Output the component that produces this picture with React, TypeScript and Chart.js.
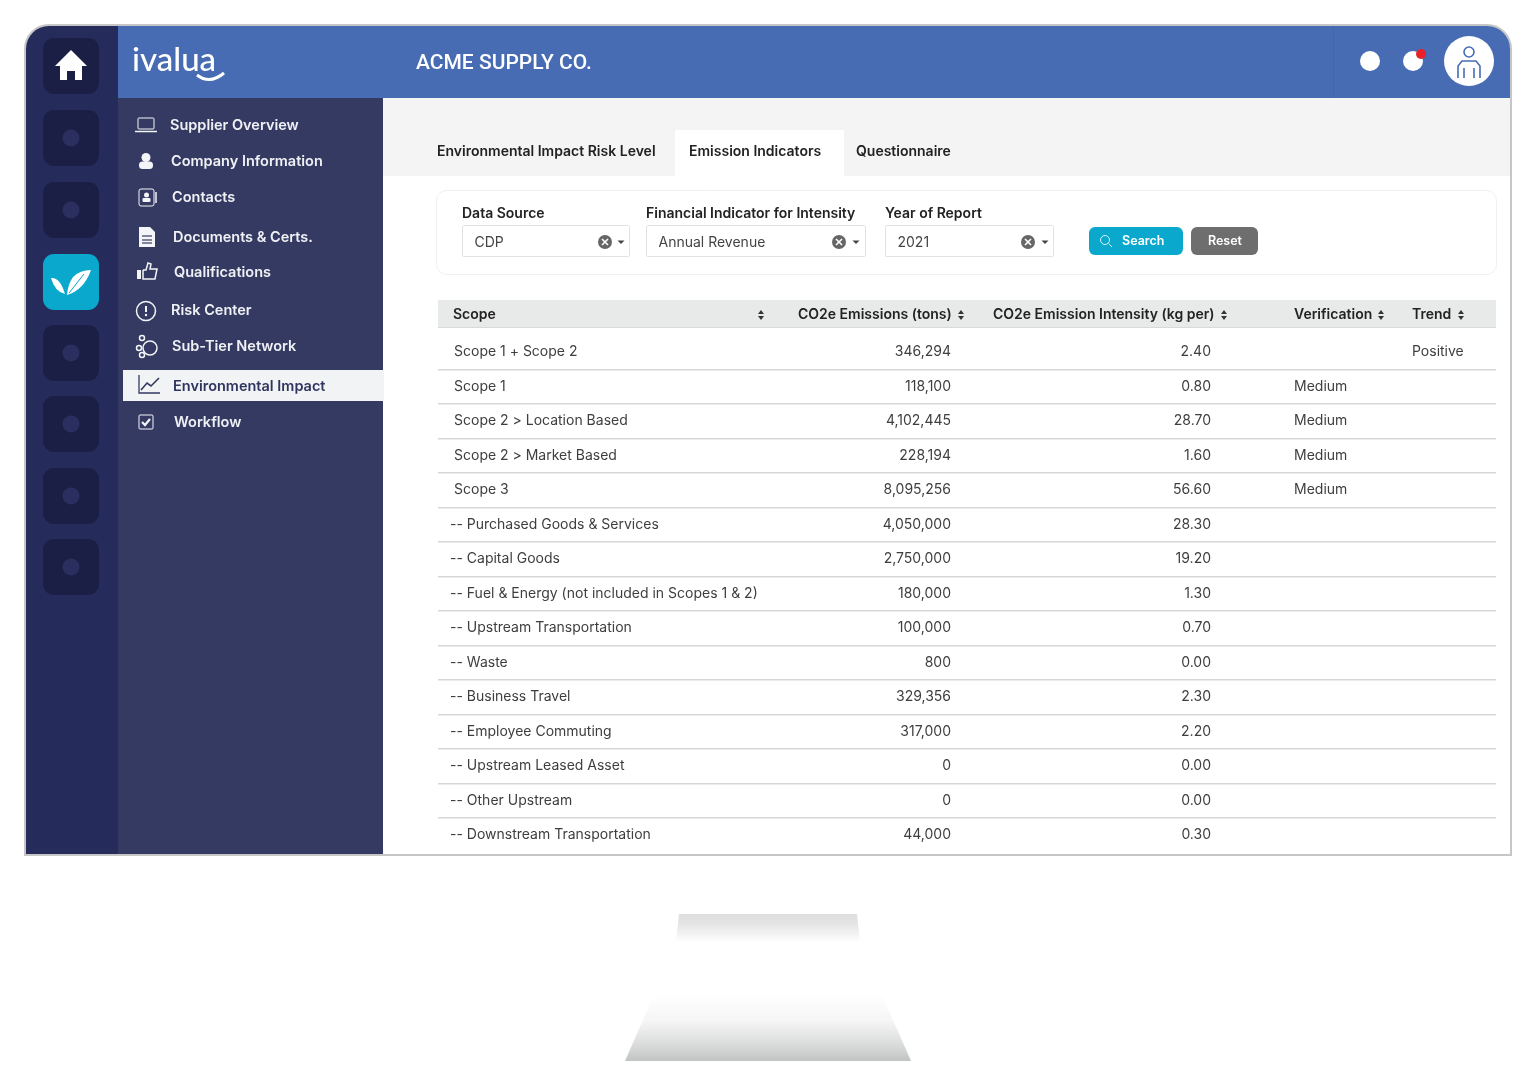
import React, { useEffect, useRef } from 'react';
import { Chart, registerables } from 'chart.js';

Chart.register(...registerables);

const rowLabels = [
  'Scope 1 + Scope 2',
  'Scope 1',
  'Scope 2 > Location Based',
  'Scope 2 > Market Based',
  'Scope 3',
  '-- Purchased Goods & Services',
  '-- Capital Goods',
  '-- Fuel & Energy (not included in Scopes 1 & 2)',
  '-- Upstream Transportation',
  '-- Waste',
  '-- Business Travel',
  '-- Employee Commuting',
  '-- Upstream Leased Asset',
  '-- Other Upstream',
  '-- Downstream Transportation',
];
const emissions = [346294, 118100, 4102445, 228194, 8095256, 4050000, 2750000, 180000, 100000, 800, 329356, 317000, 0, 0, 44000];
const intensity = [2.4, 0.8, 28.7, 1.6, 56.6, 28.3, 19.2, 1.3, 0.7, 0, 2.3, 2.2, 0, 0, 0.3];
const verification = ['', 'Medium', 'Medium', 'Medium', 'Medium', '', '', '', '', '', '', '', '', '', ''];
const trend = ['Positive', '', '', '', '', '', '', '', '', '', '', '', '', '', ''];

const navItems = ['Supplier Overview', 'Company Information', 'Contacts', 'Documents & Certs.', 'Qualifications', 'Risk Center', 'Sub-Tier Network', 'Environmental Impact', 'Workflow'];
const tabs = ['Environmental Impact Risk Level', 'Emission Indicators', 'Questionnaire'];
const filterLabels = ['Data Source', 'Financial Indicator for Intensity', 'Year of Report'];
const filterValues = ['CDP', 'Annual Revenue', '2021'];
const tableHeaders = ['Scope', 'CO2e Emissions (tons)', 'CO2e Emission Intensity (kg per)', 'Verification', 'Trend'];

const FONT = 'Inter, sans-serif';
const TABLE = { left: 438, right: 1496, rowTop: 334.75, rowBottom: 852.25 };
const navPos = [[170, 125], [171, 161], [172, 197], [173, 237], [174, 272], [171, 310], [172, 346], [173, 386], [174, 422]];
const navIconX = [146, 146, 147, 147, 147, 146, 147, 149, 146];

type Ctx = CanvasRenderingContext2D;

function rr(ctx: Ctx, x: number, y: number, w: number, h: number, r: number, fill?: string, stroke?: string) {
  ctx.beginPath();
  ctx.roundRect(x, y, w, h, r);
  if (fill) { ctx.fillStyle = fill; ctx.fill(); }
  if (stroke) { ctx.strokeStyle = stroke; ctx.lineWidth = 1; ctx.stroke(); }
}

function txt(ctx: Ctx, s: string, x: number, y: number, font: string, color: string, align: CanvasTextAlign = 'left') {
  ctx.font = font;
  ctx.fillStyle = color;
  ctx.textAlign = align;
  ctx.textBaseline = 'middle';
  ctx.fillText(s, x, y);
}

function circle(ctx: Ctx, x: number, y: number, r: number, fill: string) {
  ctx.beginPath();
  ctx.arc(x, y, r, 0, Math.PI * 2);
  ctx.fillStyle = fill;
  ctx.fill();
}

function line(ctx: Ctx, pts: number[][], color: string, w = 1.5) {
  ctx.beginPath();
  pts.forEach((p, i) => (i ? ctx.lineTo(p[0], p[1]) : ctx.moveTo(p[0], p[1])));
  ctx.strokeStyle = color;
  ctx.lineWidth = w;
  ctx.stroke();
}

function sortIcon(ctx: Ctx, x: number, y: number) {
  ctx.fillStyle = '#333';
  ctx.beginPath();
  ctx.moveTo(x - 3, y - 1); ctx.lineTo(x + 3, y - 1); ctx.lineTo(x, y - 5); ctx.closePath();
  ctx.moveTo(x - 3, y + 1); ctx.lineTo(x + 3, y + 1); ctx.lineTo(x, y + 5); ctx.closePath();
  ctx.fill();
}

function clearCaret(ctx: Ctx, x: number, cx: number, y: number) {
  circle(ctx, x, y, 7, '#666');
  line(ctx, [[x - 3, y - 3], [x + 3, y + 3]], '#fff', 1.6);
  line(ctx, [[x + 3, y - 3], [x - 3, y + 3]], '#fff', 1.6);
  ctx.fillStyle = '#444';
  ctx.beginPath();
  ctx.moveTo(cx - 3.5, y - 1.5); ctx.lineTo(cx + 3.5, y - 1.5); ctx.lineTo(cx, y + 2); ctx.closePath();
  ctx.fill();
}

function drawNavIcon(ctx: Ctx, i: number, x: number, y: number) {
  const w = '#f4f5f8';
  if (i === 0) {
    rr(ctx, x - 8, y - 7, 16, 11, 1, undefined, w);
    line(ctx, [[x - 11, y + 6.5], [x + 11, y + 6.5]], w, 1.5);
  } else if (i === 1) {
    circle(ctx, x, y - 3.5, 4.5, w);
    rr(ctx, x - 7, y + 0.5, 14, 7.5, 3.5, w);
  } else if (i === 2) {
    rr(ctx, x - 8, y - 8, 15, 17, 2, undefined, w);
    circle(ctx, x - 0.5, y - 2, 2.5, w);
    rr(ctx, x - 4.5, y + 1, 8, 4, 1, w);
    line(ctx, [[x + 9, y - 5], [x + 9, y + 6]], w, 1.5);
  } else if (i === 3) {
    ctx.fillStyle = w;
    ctx.beginPath();
    ctx.moveTo(x - 8, y - 10); ctx.lineTo(x + 3, y - 10); ctx.lineTo(x + 8, y - 5); ctx.lineTo(x + 8, y + 10); ctx.lineTo(x - 8, y + 10);
    ctx.closePath();
    ctx.fill();
    [-1, 3, 6].forEach(d => line(ctx, [[x - 5, y + d], [x + 5, y + d]], '#343a62', 1.2));
  } else if (i === 4) {
    ctx.fillStyle = w;
    ctx.fillRect(x - 10, y - 2, 4, 9);
    line(ctx, [[x - 4, y - 2], [x - 1, y - 2], [x + 1, y - 9], [x + 4, y - 8], [x + 3, y - 3], [x + 10, y - 3], [x + 8, y + 7], [x - 4, y + 7], [x - 4, y - 2]], w, 1.5);
  } else if (i === 5) {
    ctx.beginPath();
    ctx.arc(x, y + 1, 9.5, 0, Math.PI * 2);
    ctx.strokeStyle = w; ctx.lineWidth = 1.5; ctx.stroke();
    line(ctx, [[x, y - 4], [x, y + 2]], w, 2);
    circle(ctx, x, y + 5, 1.2, w);
  } else if (i === 6) {
    ctx.strokeStyle = w; ctx.lineWidth = 1.5;
    [[x + 3, y + 2, 7], [x - 5, y - 8, 2.5], [x - 8, y + 2, 2.5], [x - 5, y + 9, 2.5]].forEach(c => {
      ctx.beginPath();
      ctx.arc(c[0], c[1], c[2], 0, Math.PI * 2);
      ctx.stroke();
    });
  } else if (i === 7) {
    const d = '#343a62';
    line(ctx, [[x - 10, y - 11], [x - 10, y + 7], [x + 11, y + 7]], d, 1.3);
    line(ctx, [[x - 8, y + 4], [x - 2, y - 3], [x + 2, y], [x + 10, y - 8]], d, 1.6);
  } else {
    rr(ctx, x - 7, y - 7, 14, 14, 1, undefined, w);
    line(ctx, [[x - 4, y], [x - 1, y + 3], [x + 4, y - 3]], w, 2.2);
  }
}

// everything around the table: window frame, side bars, tabs, filters, monitor stand
const chromePlugin = {
  id: 'chrome',
  beforeDraw(chart: Chart) {
    const ctx = chart.ctx;
    ctx.save();
    ctx.fillStyle = '#fff';
    ctx.fillRect(0, 0, 1536, 1092);

    // monitor stand
    const neck = ctx.createLinearGradient(0, 914, 0, 942);
    neck.addColorStop(0, '#dedede');
    neck.addColorStop(0.35, '#e4e4e4');
    neck.addColorStop(1, '#ffffff');
    ctx.fillStyle = neck;
    ctx.beginPath();
    ctx.moveTo(679, 914); ctx.lineTo(857, 914); ctx.lineTo(860, 942); ctx.lineTo(676, 942);
    ctx.closePath();
    ctx.fill();
    const base = ctx.createLinearGradient(0, 995, 0, 1061);
    base.addColorStop(0, '#ffffff');
    base.addColorStop(0.4, '#f5f5f5');
    base.addColorStop(0.75, '#dadbdb');
    base.addColorStop(1, '#c2c4c4');
    ctx.fillStyle = base;
    ctx.beginPath();
    ctx.moveTo(654, 995); ctx.lineTo(882, 995); ctx.lineTo(911, 1061); ctx.lineTo(625, 1061);
    ctx.closePath();
    ctx.fill();

    // window
    ctx.save();
    ctx.beginPath();
    ctx.roundRect(25, 25, 1486, 830, [24, 24, 0, 0]);
    ctx.clip();
    ctx.fillStyle = '#fff';
    ctx.fillRect(25, 25, 1486, 830);
    ctx.fillStyle = '#252c5c';
    ctx.fillRect(25, 25, 93, 830);
    ctx.fillStyle = '#343a62';
    ctx.fillRect(118, 98, 265, 757);
    ctx.fillStyle = '#476cb3';
    ctx.fillRect(118, 25, 1393, 73);
    ctx.fillStyle = '#f4f4f4';
    ctx.fillRect(383, 98, 1128, 78);
    ctx.fillStyle = '#fff';
    ctx.fillRect(675, 130, 169, 46);
    ctx.fillStyle = '#43679f';
    ctx.fillRect(1333, 25, 1, 73);
    ctx.restore();
    ctx.beginPath();
    ctx.roundRect(25, 25, 1486, 830, [24, 24, 0, 0]);
    ctx.strokeStyle = '#c6c6c6';
    ctx.lineWidth = 2;
    ctx.stroke();

    // rail
    [38, 110, 182, 254, 325, 396, 468, 539].forEach((y, i) => {
      rr(ctx, 43, y, 56, 56, 11, i === 3 ? '#0aa8cc' : '#1b1f45');
      if (i !== 0 && i !== 3) circle(ctx, 71, y + 28, 8.5, '#2a2f5f');
    });
    ctx.fillStyle = '#fff';
    ctx.beginPath();
    ctx.moveTo(71, 50); ctx.lineTo(87, 66); ctx.lineTo(82, 66); ctx.lineTo(82, 80); ctx.lineTo(75, 80); ctx.lineTo(75, 71); ctx.lineTo(67, 71);
    ctx.lineTo(67, 80); ctx.lineTo(60, 80); ctx.lineTo(60, 66); ctx.lineTo(55, 66);
    ctx.closePath();
    ctx.fill();
    ctx.beginPath();
    ctx.moveTo(51, 278); ctx.quadraticCurveTo(60, 277, 65, 294); ctx.quadraticCurveTo(55, 292, 51, 278);
    ctx.moveTo(91, 270); ctx.quadraticCurveTo(80, 270, 73, 277); ctx.quadraticCurveTo(68, 284, 67, 295); ctx.quadraticCurveTo(84, 290, 91, 270);
    ctx.fill();
    line(ctx, [[69, 293], [84, 274]], '#0aa8cc', 1);

    // header bar
    txt(ctx, 'ivalua', 132, 60, '500 33px Lato, sans-serif', '#fff');
    ctx.beginPath();
    ctx.moveTo(197, 75);
    ctx.quadraticCurveTo(210, 85, 224, 73);
    ctx.strokeStyle = '#fff';
    ctx.lineWidth = 3;
    ctx.stroke();
    txt(ctx, 'ACME SUPPLY CO.', 416, 64, '500 21px Roboto, sans-serif', '#fff');
    circle(ctx, 1370, 61, 10, '#fff');
    circle(ctx, 1413, 61, 10, '#fff');
    circle(ctx, 1421, 54, 5, '#e8202a');
    circle(ctx, 1469, 61, 25, '#fff');
    ctx.beginPath();
    ctx.arc(1469, 52, 5, 0, Math.PI * 2);
    ctx.strokeStyle = '#476cb3';
    ctx.lineWidth = 1.6;
    ctx.stroke();
    line(ctx, [[1458, 78], [1458, 66], [1462, 61], [1476, 61], [1480, 66], [1480, 78]], '#476cb3', 1.6);
    line(ctx, [[1464, 68], [1464, 78]], '#476cb3', 1.6);
    line(ctx, [[1474, 68], [1474, 78]], '#476cb3', 1.6);

    // side menu
    ctx.fillStyle = '#f2f3f4';
    ctx.fillRect(123, 370, 261, 31);
    navItems.forEach((s, i) => {
      const [x, y] = navPos[i];
      drawNavIcon(ctx, i, navIconX[i], y);
      txt(ctx, s, x, y + 1, `600 14.5px ${FONT}`, i === 7 ? '#2f3560' : '#f0f1f5');
    });

    // tabs
    [437, 689, 856].forEach((x, i) => txt(ctx, tabs[i], x, 152, `600 14px ${FONT}`, '#222'));

    // filter box
    rr(ctx, 436.5, 190.5, 1060, 84, 10, '#fff', '#f0f0f0');
    [462, 646, 885].forEach((x, i) => txt(ctx, filterLabels[i], x, 214, `600 14px ${FONT}`, '#222'));
    [[462, 167, 605, 621], [646, 219, 839, 856], [885, 168, 1028, 1045]].forEach((b, i) => {
      rr(ctx, b[0] + 0.5, 225.5, b[1], 31, 1, '#fff', '#e2e2e2');
      txt(ctx, filterValues[i], b[0] + 12.5, 243, `400 14px ${FONT}`, '#444');
      clearCaret(ctx, b[2], b[3], 242);
    });
    rr(ctx, 1089, 227, 94, 28, 6, '#0aa8cc');
    ctx.beginPath();
    ctx.arc(1105, 240, 4.5, 0, Math.PI * 2);
    ctx.strokeStyle = '#d8f3fa';
    ctx.lineWidth = 1;
    ctx.stroke();
    line(ctx, [[1108.5, 243.5], [1112, 247]], '#d8f3fa', 1);
    txt(ctx, 'Search', 1122, 241, `600 12.5px ${FONT}`, '#fff');
    rr(ctx, 1191, 227, 67, 28, 6, '#6e6e6e');
    txt(ctx, 'Reset', 1225, 241, `600 12.5px ${FONT}`, '#fff', 'center');

    // table header
    ctx.fillStyle = '#e8e9e9';
    ctx.fillRect(TABLE.left, 300, TABLE.right - TABLE.left, 28);
    ctx.fillStyle = '#d8d9d9';
    ctx.fillRect(TABLE.left, 327, TABLE.right - TABLE.left, 1);
    [453, 798, 993, 1294, 1412].forEach((x, i) => txt(ctx, tableHeaders[i], x, 315, `600 14px ${FONT}`, '#222'));
    [761, 961, 1224, 1381, 1461].forEach(x => sortIcon(ctx, x, 315));
    ctx.restore();
  },
};

// writes the table columns at the positions the scales give each point
const cellsPlugin = {
  id: 'cells',
  afterDatasetsDraw(chart: Chart) {
    const ctx = chart.ctx;
    ctx.save();
    chart.data.datasets.forEach((ds: any, d: number) => {
      chart.getDatasetMeta(d).data.forEach((pt: any, i: number) => {
        const s = ds.cellText[i];
        // sub rows: the source has a tighter "--", so pull it left to line up the names
        const dx = s.startsWith('--') ? -4 : 0;
        if (s) txt(ctx, s, pt.x + dx, pt.y, `400 14px ${FONT}`, '#3e3e3e', ds.cellAlign);
      });
    });
    ctx.restore();
  },
};

function column(label: string, anchor: number, cellText: string[], cellAlign: CanvasTextAlign) {
  return {
    label,
    data: rowLabels.map(() => anchor),
    cellText,
    cellAlign,
    showLine: false,
    pointRadius: 0,
  };
}

export default function App() {
  const canvasRef = useRef<HTMLCanvasElement>(null);

  useEffect(() => {
    document.body.style.margin = '0';
    document.body.style.background = '#fff';
    if (!canvasRef.current) return;

    const chart = new Chart(canvasRef.current, {
      type: 'line',
      data: {
        labels: rowLabels,
        datasets: [
          column('Scope', 16, rowLabels, 'left'),
          column('CO2e Emissions (tons)', 513, emissions.map(v => v.toLocaleString('en-US')), 'right'),
          column('CO2e Emission Intensity (kg per)', 773, intensity.map(v => v.toFixed(2)), 'right'),
          column('Verification', 856, verification, 'left'),
          column('Trend', 974, trend, 'left'),
        ] as any,
      },
      options: {
        indexAxis: 'y',
        responsive: false,
        animation: false,
        events: [],
        layout: {
          padding: {
            left: TABLE.left,
            right: 1536 - TABLE.right,
            top: TABLE.rowTop,
            bottom: 1092 - TABLE.rowBottom,
          },
        },
        plugins: { legend: { display: false }, tooltip: { enabled: false } },
        scales: {
          x: { type: 'linear', display: false, min: 0, max: TABLE.right - TABLE.left },
          y: {
            type: 'category',
            offset: true,
            border: { display: false },
            afterFit: (s: any) => { s.width = 0; },
            grid: {
              offset: true,
              drawTicks: false,
              lineWidth: 1.5,
              // no rule above the first row or below the last one
              color: (c: any) => (c.tick && c.index > 0 ? '#d6d8d8' : 'rgba(0,0,0,0)'),
            },
            ticks: { display: false, autoSkip: false },
          },
        },
      } as any,
      plugins: [chromePlugin, cellsPlugin] as any,
    });

    return () => chart.destroy();
  }, []);

  return <canvas ref={canvasRef} width={1536} height={1092} style={{ display: 'block' }} />;
}
